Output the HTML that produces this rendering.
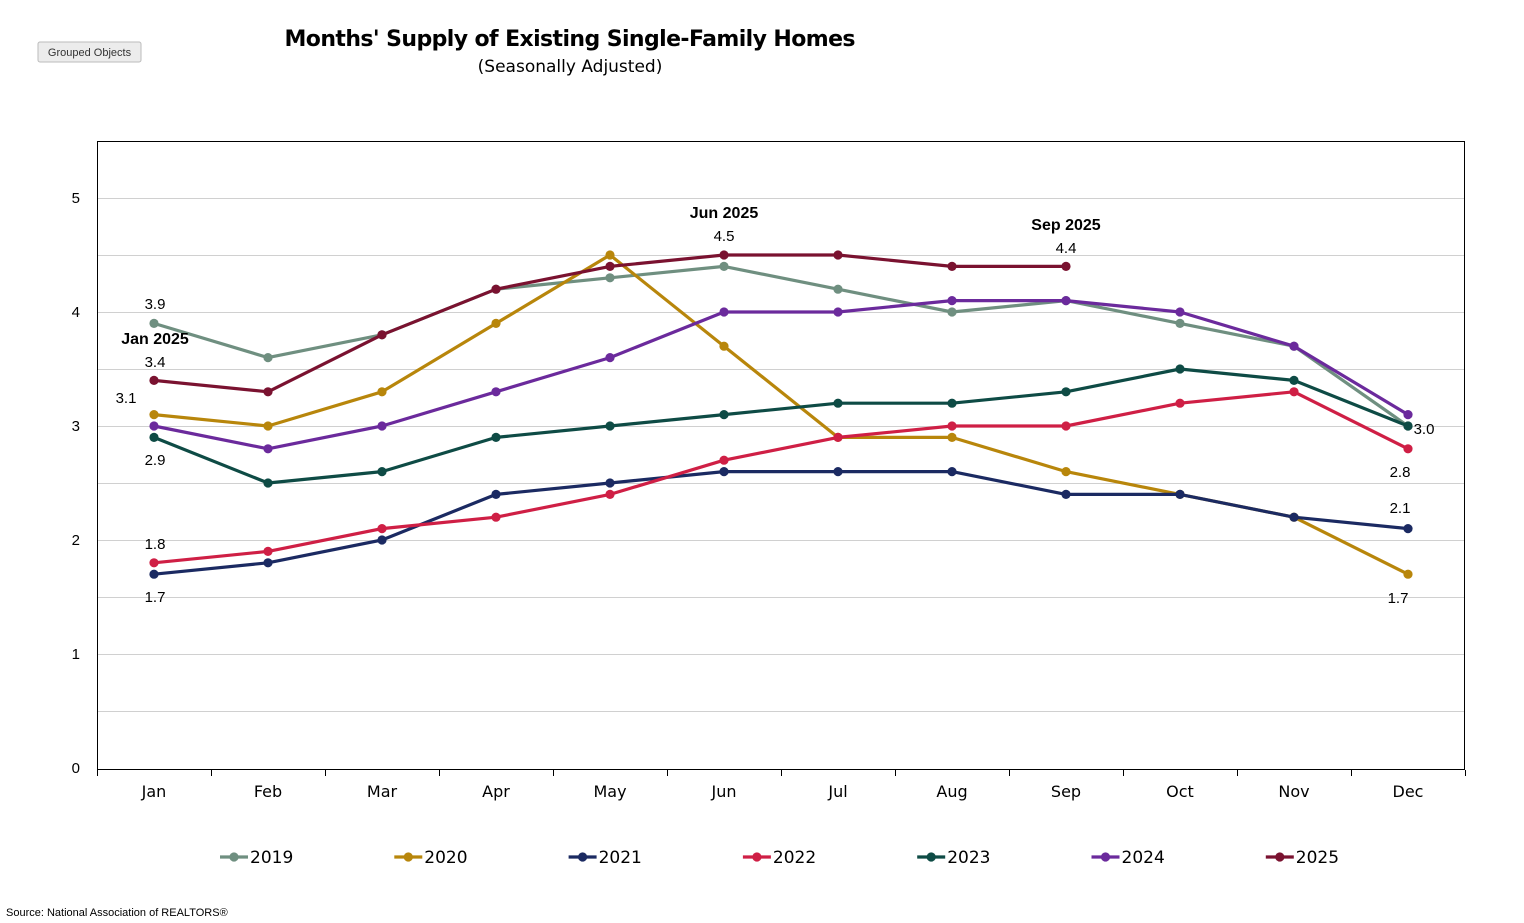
<!DOCTYPE html>
<html><head><meta charset="utf-8"><style>
html,body{margin:0;padding:0;background:#fff;}
svg{display:block;font-family:"DejaVu Sans","Liberation Sans",sans-serif;}
.t{font-size:15px;fill:#000;}
</style></head><body>
<svg id="c" width="1524" height="923" viewBox="0 0 1524 923" xmlns="http://www.w3.org/2000/svg">
<rect x="38" y="42" width="103" height="20" rx="2" fill="#ececec" stroke="#bbb"/>
<text x="89.5" y="56" font-size="11" text-anchor="middle" fill="#333" font-family="Liberation Sans">Grouped Objects</text>
<text x="570" y="46" font-size="22" font-weight="bold" text-anchor="middle" textLength="571">Months' Supply of Existing Single-Family Homes</text>
<text x="570" y="72" font-size="17" text-anchor="middle">(Seasonally Adjusted)</text>
<g id="grid" stroke="#d0d0d0" stroke-width="1"></g>
<rect x="97.5" y="141.5" width="1367" height="628" fill="none" stroke="#000" stroke-width="1"/>
<g id="ticks" stroke="#000" stroke-width="1"></g>
<g class="t" text-anchor="end" font-family="Liberation Sans">
<text x="80" y="773" class="t">0</text><text x="80" y="659" class="t">1</text><text x="80" y="545" class="t">2</text><text x="80" y="431" class="t">3</text><text x="80" y="317" class="t">4</text><text x="80" y="203" class="t">5</text>
</g>
<g text-anchor="middle" font-size="16">
<text x="154" y="797">Jan</text><text x="268" y="797">Feb</text><text x="382" y="797">Mar</text><text x="496" y="797">Apr</text><text x="610" y="797">May</text><text x="724" y="797">Jun</text><text x="838" y="797">Jul</text><text x="952" y="797">Aug</text><text x="1066" y="797">Sep</text><text x="1180" y="797">Oct</text><text x="1294" y="797">Nov</text><text x="1408" y="797">Dec</text>
</g>
<g id="series"></g>
<g text-anchor="middle" font-size="15" font-family="Liberation Sans">
<text x="155" y="309">3.9</text>
<text x="155" y="344" font-weight="bold" font-size="16">Jan 2025</text>
<text x="155" y="367">3.4</text>
<text x="126" y="403">3.1</text>
<text x="155" y="465">2.9</text>
<text x="155" y="549">1.8</text>
<text x="155" y="602">1.7</text>
<text x="724" y="218" font-weight="bold" font-size="16">Jun 2025</text>
<text x="724" y="241">4.5</text>
<text x="1066" y="230" font-weight="bold" font-size="16">Sep 2025</text>
<text x="1066" y="253">4.4</text>
<text x="1424" y="434">3.0</text>
<text x="1400" y="477">2.8</text>
<text x="1400" y="513">2.1</text>
<text x="1398" y="603">1.7</text>
</g>
<g id="legend" font-size="17"></g>
<text x="6" y="916" font-size="11" font-family="Liberation Sans">Source: National Association of REALTORS®</text>
</svg>
<script>
var NS="http://www.w3.org/2000/svg";
function el(p,n,a){var e=document.createElementNS(NS,n);for(var k in a)e.setAttribute(k,a[k]);p.appendChild(e);return e;}
var g=document.getElementById('grid');
for(var i=1;i<=10;i++){var y=768-i*57;el(g,'line',{x1:97,x2:1465,y1:y+.5,y2:y+.5});}
var t=document.getElementById('ticks');
for(var i=0;i<=12;i++){var x=97+i*114;el(t,'line',{x1:x+.5,x2:x+.5,y1:770,y2:776});}
var S=[
["2019","#6f8f80",[3.9,3.6,3.8,4.2,4.3,4.4,4.2,4.0,4.1,3.9,3.7,3.0]],
["2020","#b8860b",[3.1,3.0,3.3,3.9,4.5,3.7,2.9,2.9,2.6,2.4,2.2,1.7]],
["2021","#1b2a62",[1.7,1.8,2.0,2.4,2.5,2.6,2.6,2.6,2.4,2.4,2.2,2.1]],
["2022","#cf1f45",[1.8,1.9,2.1,2.2,2.4,2.7,2.9,3.0,3.0,3.2,3.3,2.8]],
["2023","#0e4b45",[2.9,2.5,2.6,2.9,3.0,3.1,3.2,3.2,3.3,3.5,3.4,3.0]],
["2024","#6b2a9c",[3.0,2.8,3.0,3.3,3.6,4.0,4.0,4.1,4.1,4.0,3.7,3.1]],
["2025","#7a1230",[3.4,3.3,3.8,4.2,4.4,4.5,4.5,4.4,4.4]]];
var s=document.getElementById('series'),L=document.getElementById('legend');
S.forEach(function(d,j){
 var pts=d[2].map(function(v,i){return [154+i*114,768-v*114];});
 el(s,'polyline',{points:pts.map(function(p){return p.join(',')}).join(' '),fill:'none',stroke:d[1],'stroke-width':3.2,'stroke-linejoin':'round'});
 pts.forEach(function(p){el(s,'circle',{cx:p[0],cy:p[1],r:4.6,fill:d[1]});});
 var lx=220+j*174.3;
 el(L,'line',{x1:lx,x2:lx+28,y1:857,y2:857,stroke:d[1],'stroke-width':3.2});
 el(L,'circle',{cx:lx+14,cy:857,r:4.6,fill:d[1]});
 var tx=el(L,'text',{x:lx+30,y:863});tx.textContent=d[0];
});
</script>
</body></html>
